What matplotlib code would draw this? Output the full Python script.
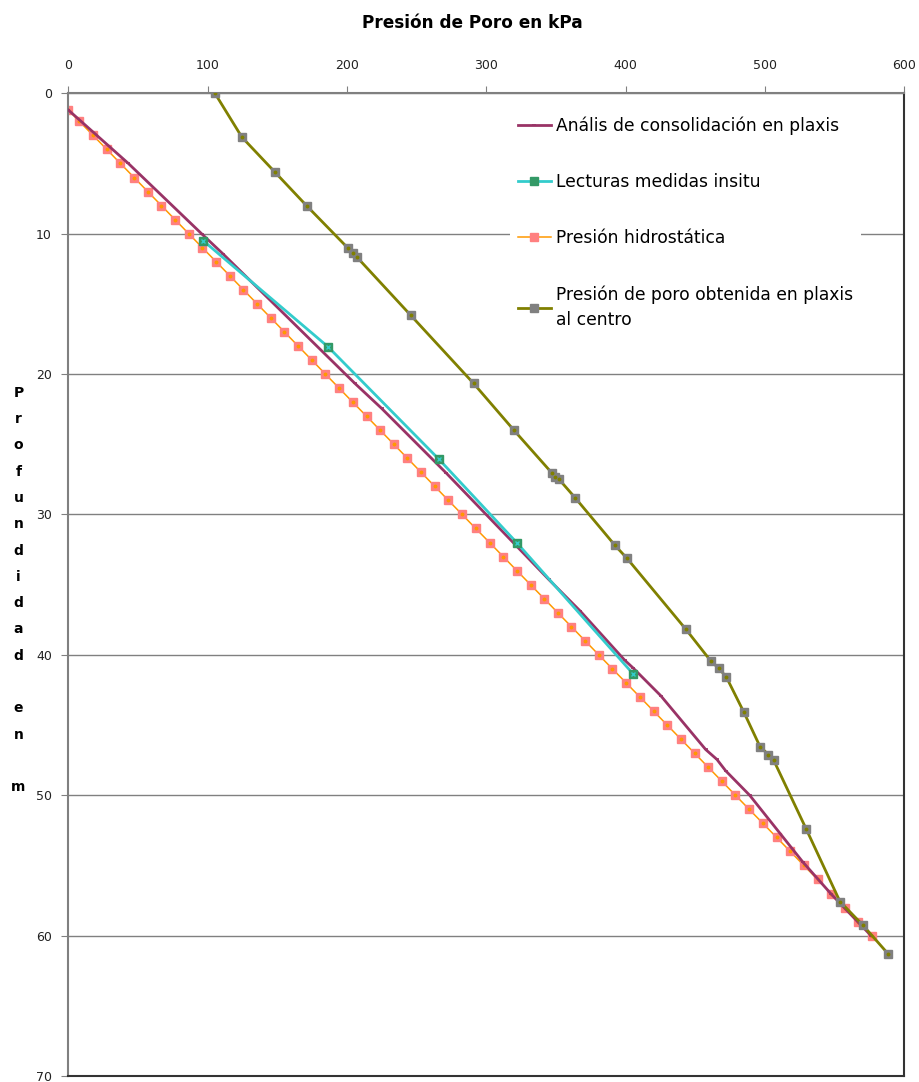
import numpy as np
import matplotlib
matplotlib.use('Agg')
import matplotlib.pyplot as plt

plt.rcParams['font.family'] = ['DejaVu Sans']

# Analisis de consolidacion en plaxis (presion kPa, profundidad m)
cons_p = [0, 43.0, 95.5, 111.0, 205.5, 224.7, 271.3, 344.7, 367.4, 399.2, 405.2,
          425.0, 457.3, 465.4, 471.7, 488.9, 527.0, 547.5, 576.0]
cons_z = [1.2, 5.0, 10.0, 11.45, 20.66, 22.44, 27.07, 34.63, 36.89, 40.38, 40.93,
          42.9, 46.74, 47.45, 48.26, 50.0, 54.75, 57.05, 60.0]

# Lecturas medidas insitu
insitu_p = [96.7, 186.2, 265.8, 322.0, 405.0]
insitu_z = [10.5, 18.05, 26.06, 32.04, 41.33]

# Presion hidrostatica
hidro_z = [1.2, 2, 3, 4, 5, 6, 7, 8, 9, 10, 11, 12, 13, 14, 15, 16, 17, 18, 19, 20,
           21, 22, 23, 24, 25, 26, 27, 28, 29, 30, 31, 32, 33, 34, 35, 36, 37, 38, 39, 40,
           41, 42, 43, 44, 45, 46, 47, 48, 49, 50, 51, 52, 53, 54, 55, 56, 57, 58, 59, 60]
hidro_p = [0, 7.8, 17.7, 27.5, 37.3, 47.1, 56.9, 66.7, 76.5, 86.3, 96.1, 106.0, 115.8,
           125.6, 135.4, 145.2, 155.0, 164.8, 174.6, 184.4, 194.2, 204.0, 213.9, 223.7,
           233.5, 243.3, 253.1, 262.9, 272.7, 282.5, 292.3, 302.2, 312.0, 321.8, 331.6,
           341.4, 351.2, 361.0, 370.8, 380.6, 390.4, 400.3, 410.1, 419.9, 429.7, 439.5,
           449.3, 459.1, 468.9, 478.7, 488.5, 498.4, 508.2, 518.0, 527.8, 537.6, 547.4,
           557.2, 567.0, 576.8]

# Presion de poro obtenida en plaxis al centro
centro_p = [105.1, 124.5, 148.3, 171.1, 200.7, 204.3, 207.2, 245.7, 290.7, 319.8,
            346.8, 349.2, 352.1, 363.8, 392.3, 400.9, 443.2, 461.1, 466.9, 472.2,
            484.8, 496.3, 502.3, 506.1, 529.3, 553.7, 570.2, 588.1]
centro_z = [0, 3.13, 5.63, 8.03, 11.04, 11.40, 11.69, 15.82, 20.66, 24.01,
            27.03, 27.36, 27.50, 28.83, 32.21, 33.13, 38.19, 40.45, 40.97, 41.59,
            44.10, 46.53, 47.10, 47.50, 52.37, 57.57, 59.26, 61.28]

fig = plt.figure(figsize=(9.19, 10.82), dpi=100)
ax = fig.add_axes([0.0745, 0.0055, 0.9097, 0.9083])

ax.plot(cons_p, cons_z, color='#993366', lw=2, marker='_', ms=3, mew=1.2,
        label='Anális de consolidación en plaxis', zorder=3)
ax.plot(insitu_p, insitu_z, color='#33CCCC', lw=2, marker='s', ms=6.3,
        mfc='#339966', mec='#339966', label='Lecturas medidas insitu', zorder=4)
ax.plot(insitu_p, insitu_z, ls='none', marker='x', ms=3.5, mew=1, color='#33CCCC', zorder=4)
ax.plot(hidro_p, hidro_z, color='#FF9900', lw=1.1, marker='s', ms=6,
        mfc='#FF8080', mec='#FF8080', label='Presión hidrostática', zorder=2)
ax.plot(hidro_p, hidro_z, ls='none', marker='o', ms=1.8, color='#FF9900', zorder=2)
ax.plot(centro_p, centro_z, color='#808000', lw=2, marker='s', ms=6,
        mfc='#808080', mec='#808080',
        label='Presión de poro obtenida en plaxis\nal centro', zorder=3)
ax.plot(centro_p, centro_z, ls='none', marker='o', ms=1.8, color='#808000', zorder=3)

ax.set_xlim(0, 600)
ax.set_ylim(70, 0)
ax.set_xticks(np.arange(0, 601, 100))
ax.set_yticks(np.arange(0, 71, 10))
ax.xaxis.tick_top()
ax.tick_params(axis='x', direction='out', length=5, color='#808080', pad=10,
               labelsize=9, labelcolor='#222222')
ax.tick_params(axis='y', direction='out', length=5, color='#808080', pad=7,
               labelsize=9, labelcolor='#222222')
ax.yaxis.grid(True, color='#808080', lw=1)
ax.set_axisbelow(True)
for s in ['top', 'left']:
    ax.spines[s].set_color('#808080')
    ax.spines[s].set_linewidth(1.5)
for s in ['right', 'bottom']:
    ax.spines[s].set_color('#333333')
    ax.spines[s].set_linewidth(1.5)

fig.text(0.514, 1 - 23 / 1082, 'Presión de Poro en kPa', ha='center', va='center',
         fontsize=12.2, fontweight='bold')
fig.text(0.02, 1 - 590 / 1082, '\n'.join('Profundidad en m'), ha='center',
         va='center', fontsize=10, fontweight='bold', linespacing=2.12)

leg = ax.legend(loc='upper left', bbox_to_anchor=(501 / 919, 1 - 99 / 1082),
                bbox_transform=fig.transFigure, fontsize=12.3, frameon=True,
                facecolor='white', edgecolor='none', framealpha=1,
                labelspacing=2.25, handlelength=1.9, handletextpad=0.3,
                borderpad=0.5)
leg.get_frame().set_boxstyle('square', pad=0)
leg.get_texts()[3].set_linespacing(1.45)

fig.savefig('out.png', dpi=100)
